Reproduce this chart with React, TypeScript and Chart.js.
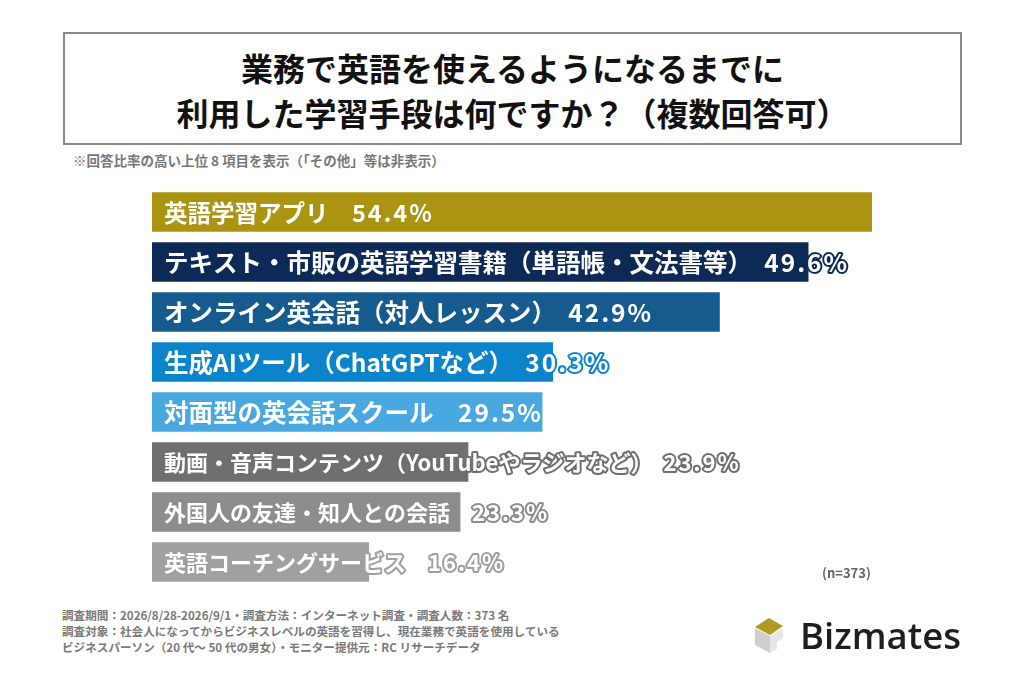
import React, { useEffect, useRef } from "react";
import { Chart, registerables } from "chart.js";

Chart.register(...registerables);

const titleLines = ["業務で英語を使えるようになるまでに", "利用した学習手段は何ですか？（複数回答可）"];
const noteText = "※回答比率の高い上位 8 項目を表示（「その他」等は非表示）";
const sampleText = "(n=373)";
const footerLines = [
  "調査期間：2026/8/28-2026/9/1・調査方法：インターネット調査・調査人数：373 名",
  "調査対象：社会人になってからビジネスレベルの英語を習得し、現在業務で英語を使用している",
  "ビジネスパーソン（20 代～ 50 代の男女）・モニター提供元：RC リサーチデータ",
];
const brandName = "Bizmates";

const categories = [
  "英語学習アプリ",
  "テキスト・市販の英語学習書籍（単語帳・文法書等）",
  "オンライン英会話（対人レッスン）",
  "生成AIツール（ChatGPTなど）",
  "対面型の英会話スクール",
  "動画・音声コンテンツ（YouTubeやラジオなど）",
  "外国人の友達・知人との会話",
  "英語コーチングサービス",
];
const values = [54.4, 49.6, 42.9, 30.3, 29.5, 23.9, 23.3, 16.4];
const barColors = [
  "#AA9412",
  "#0C2A55",
  "#165B8E",
  "#0C84CC",
  "#4AA8E0",
  "#6F6F6F",
  "#8D8D8D",
  "#A0A0A0",
];
const labelFontSizes = [23.5, 24.5, 24.5, 24.5, 24.5, 22, 22, 22];

const FONT_JP = '"Noto Sans CJK JP", "Noto Sans", sans-serif';

const labelPlugin = {
  id: "barLabels",
  afterDatasetsDraw(chart: any) {
    const ctx = chart.ctx as any;
    const meta = chart.getDatasetMeta(0);
    const x0 = chart.scales.x.getPixelForValue(0) + 12;
    ctx.save();
    ctx.textBaseline = "middle";
    ctx.textAlign = "left";
    ctx.lineJoin = "round";
    meta.data.forEach((bar: any, i: number) => {
      ctx.font = `bold ${labelFontSizes[i]}px ${FONT_JP}`;
      const cat = categories[i];
      const sep = cat.endsWith("）") ? "\u2002" : "　";
      const head = cat + sep;
      const num = values[i].toFixed(1) + "%";
      const y = bar.y + 1;
      ctx.strokeStyle = barColors[i];
      ctx.lineWidth = 4;
      ctx.fillStyle = "#ffffff";
      ctx.letterSpacing = "0px";
      ctx.strokeText(head, x0, y);
      ctx.fillText(head, x0, y);
      const w = ctx.measureText(head).width;
      ctx.letterSpacing = "2px";
      ctx.strokeText(num, x0 + w, y);
      ctx.fillText(num, x0 + w, y);
    });
    ctx.restore();
  },
};

function BarChart() {
  const ref = useRef<HTMLCanvasElement | null>(null);
  useEffect(() => {
    if (!ref.current) return;
    const chart = new Chart(ref.current, {
      type: "bar",
      data: {
        labels: categories,
        datasets: [
          {
            data: values,
            backgroundColor: barColors,
            borderWidth: 0,
            categoryPercentage: 1,
            barPercentage: 0.79,
          },
        ],
      },
      options: {
        indexAxis: "y",
        responsive: false,
        maintainAspectRatio: false,
        animation: false,
        layout: { padding: { left: 0, right: 40, top: 0, bottom: 0 } },
        scales: {
          x: { display: false, min: 0, max: Math.max(...values) },
          y: { display: false },
        },
        plugins: {
          legend: { display: false },
          tooltip: { enabled: false },
        },
      },
      plugins: [labelPlugin],
    } as any);
    return () => chart.destroy();
  }, []);
  return (
    <canvas
      ref={ref}
      width={760}
      height={400}
      style={{ position: "absolute", left: 152, top: 187, width: 760, height: 400 }}
    />
  );
}

export default function App() {
  return (
    <div
      style={{
        position: "absolute",
        left: 0,
        top: 0,
        width: 1024,
        height: 683,
        background: "#ffffff",
        overflow: "hidden",
        fontFamily: FONT_JP,
      }}
    >
      <div
        style={{
          position: "absolute",
          left: 63,
          top: 32,
          width: 895,
          height: 109,
          border: "2px solid #8a8a8a",
        }}
      />
      {titleLines.map((t, i) => (
        <div
          key={i}
          style={{
            position: "absolute",
            left: 63,
            width: 899,
            top: 67 + i * 45 - 22,
            height: 44,
            lineHeight: "44px",
            textAlign: "center",
            fontSize: 32,
            fontWeight: 700,
            color: "#111111",
            whiteSpace: "nowrap",
          }}
        >
          {t}
        </div>
      ))}
      <div
        style={{
          position: "absolute",
          left: 73,
          top: 151,
          height: 18,
          lineHeight: "18px",
          fontSize: 13.5,
          fontWeight: 700,
          color: "#777777",
          whiteSpace: "nowrap",
        }}
      >
        {noteText}
      </div>
      <BarChart />
      <div
        style={{
          position: "absolute",
          left: 822,
          top: 564,
          height: 18,
          lineHeight: "18px",
          fontSize: 13,
          fontWeight: 700,
          color: "#666666",
          whiteSpace: "nowrap",
        }}
      >
        {sampleText}
      </div>
      {footerLines.map((t, i) => (
        <div
          key={i}
          style={{
            position: "absolute",
            left: 62,
            top: 607 + i * 16,
            height: 16,
            lineHeight: "16px",
            fontSize: 11.6,
            fontWeight: 700,
            color: "#7a7a7a",
            whiteSpace: "nowrap",
          }}
        >
          {t}
        </div>
      ))}
      <svg
        width={40}
        height={44}
        style={{ position: "absolute", left: 750, top: 614 }}
        viewBox="0 0 40 44"
      >
        <polygon points="5,13 19,4 33,12 20,21" fill="#B09A22" />
        <polygon points="5,14 20,22 20,39 5,31" fill="#cfcfcf" />
        <polygon points="20,22 33,14 33,24 27,28 27,35 20,39" fill="#e6e6e6" />
      </svg>
      <div
        style={{
          position: "absolute",
          left: 800,
          top: 613,
          height: 44,
          lineHeight: "44px",
          fontSize: 36.5,
          fontWeight: 600,
          color: "#1e1e1e",
          fontFamily: '"Open Sans", sans-serif',
          whiteSpace: "nowrap",
        }}
      >
        {brandName}
      </div>
    </div>
  );
}
